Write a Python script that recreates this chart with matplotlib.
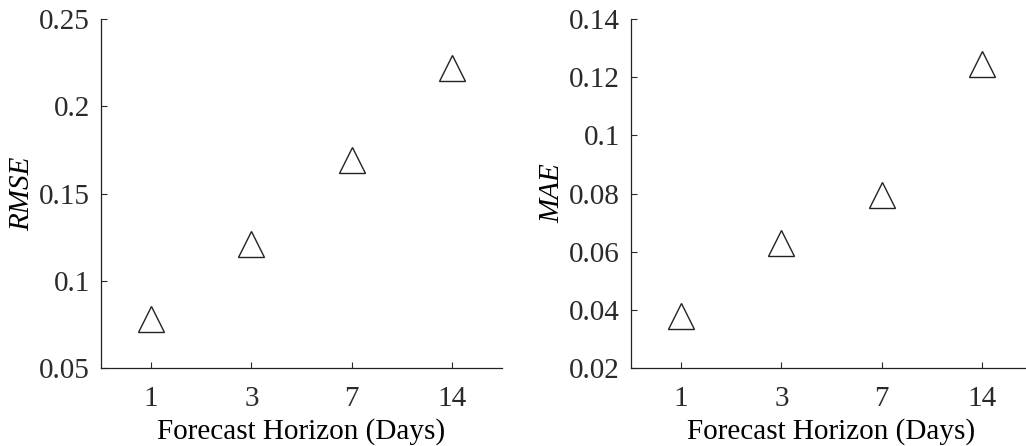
import matplotlib.pyplot as plt

horizons = ['1', '3', '7', '14']
rmse = [0.078, 0.121, 0.169, 0.222]
mae = [0.038, 0.063, 0.0795, 0.1245]

plt.rcParams['font.family'] = 'Liberation Serif'
plt.rcParams['font.size'] = 21
plt.rcParams['text.color'] = '#2a2a2a'
plt.rcParams['xtick.color'] = '#2a2a2a'
plt.rcParams['ytick.color'] = '#2a2a2a'

W, H = 1026, 446
fig = plt.figure(figsize=(W / 100, H / 100), dpi=100)


def panel(left, vals, ylim, yticks, ylabels, name):
    ax = fig.add_axes([left / W, (H - 368) / H, 401 / W, 349 / H])
    x = range(1, len(horizons) + 1)
    ax.plot(x, vals, linestyle='none', marker='^', ms=19, mfc='white',
            mec='#222222', mew=1.0)
    ax.set_xlim(0.5, 4.5)
    ax.set_ylim(*ylim)
    ax.set_xticks(list(x))
    ax.set_xticklabels(horizons)
    ax.set_yticks(yticks)
    ax.set_yticklabels(ylabels)
    for s in ['top', 'right']:
        ax.spines[s].set_visible(False)
    for s in ['left', 'bottom']:
        ax.spines[s].set_color('#222222')
        ax.spines[s].set_linewidth(0.9)
    ax.tick_params(direction='in', length=4, width=0.8)
    ax.tick_params(axis='x', pad=13)
    ax.tick_params(axis='y', pad=8)
    ax.set_xlabel('Forecast Horizon (Days)', labelpad=4)
    ax.set_ylabel(name, style='italic', labelpad=2.7)
    return ax


panel(101, rmse, (0.05, 0.25), [0.05, 0.1, 0.15, 0.2, 0.25],
      ['0.05', '0.1', '0.15', '0.2', '0.25'], 'RMSE')
panel(631, mae, (0.02, 0.14), [0.02, 0.04, 0.06, 0.08, 0.1, 0.12, 0.14],
      ['0.02', '0.04', '0.06', '0.08', '0.1', '0.12', '0.14'], 'MAE')

fig.savefig('out.png', dpi=100)
